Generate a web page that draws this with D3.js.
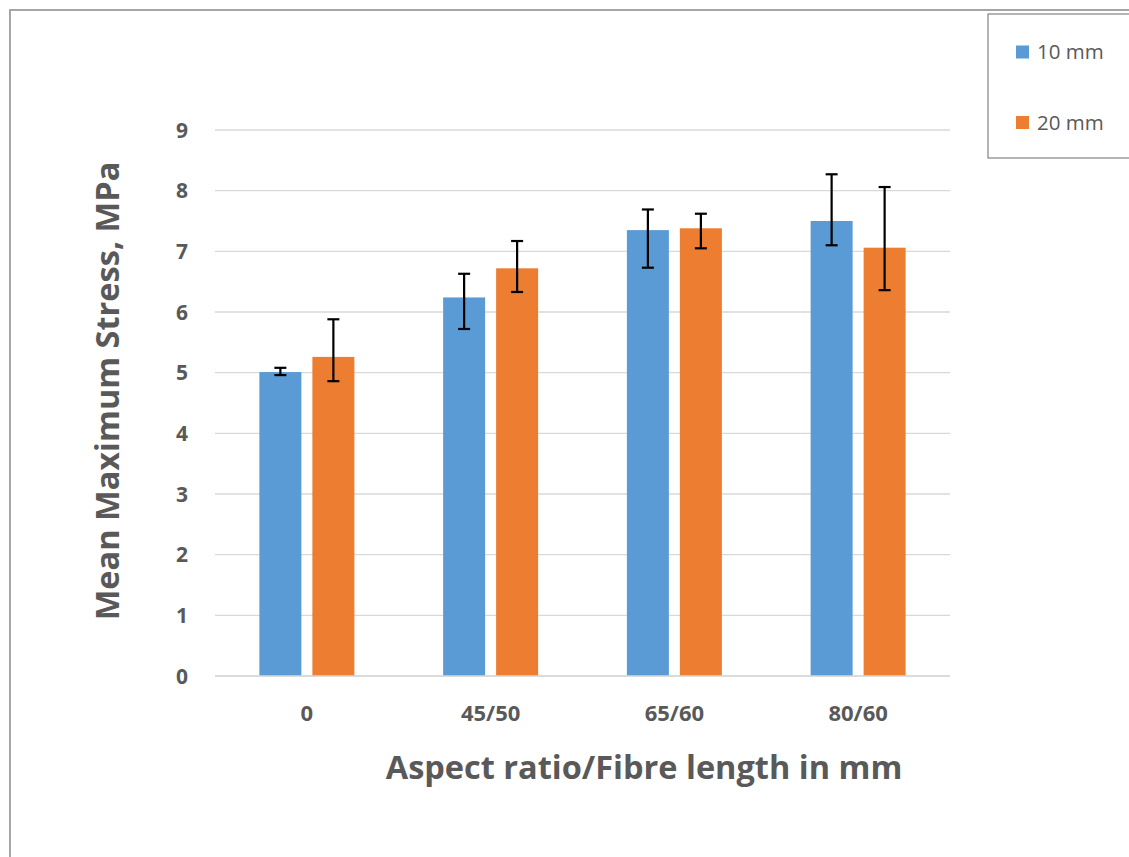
<!DOCTYPE html>
<html><head><meta charset="utf-8">
<script src="https://cdn.jsdelivr.net/npm/d3@7"></script>
<style>body{margin:0;background:#fff}svg{display:block}</style>
</head><body>
<script>
const categories = ["0", "45/50", "65/60", "80/60"];
const seriesNames = ["10 mm", "20 mm"];
const values10 = [5.01, 6.24, 7.35, 7.50];
const values20 = [5.26, 6.72, 7.38, 7.06];
const errLow10 = [4.96, 5.72, 6.73, 7.10];
const errHigh10 = [5.08, 6.63, 7.69, 8.27];
const errLow20 = [4.86, 6.33, 7.05, 6.36];
const errHigh20 = [5.88, 7.17, 7.62, 8.06];
const yTicks = [0,1,2,3,4,5,6,7,8,9];
const colors = ["#5B9BD5", "#ED7D31"];

const W = 1129, H = 857;
const svg = d3.select("body").append("svg").attr("width", W).attr("height", H);
const font = "'Open Sans', 'Liberation Sans', sans-serif";
const txt = "#595959";

// outer frame
svg.append("rect").attr("x", 10).attr("y", 10).attr("width", W).attr("height", H)
  .attr("fill", "none").attr("stroke", "#a6a6a6").attr("stroke-width", 2);

const x0 = d3.scaleBand().domain(categories).range([215, 950]);
const y = d3.scaleLinear().domain([0, 9]).range([676, 130]);

// grid
svg.append("g").selectAll("line").data(yTicks).join("line")
  .attr("x1", 215).attr("x2", 950)
  .attr("y1", d => y(d)).attr("y2", d => y(d))
  .attr("stroke", "#d9d9d9").attr("stroke-width", 1.3);

// y tick labels
svg.append("g").selectAll("text").data(yTicks).join("text")
  .attr("x", 188).attr("y", d => y(d)).attr("dy", "0.36em")
  .attr("text-anchor", "end").attr("font-family", font).attr("font-weight", "bold")
  .attr("font-size", 21).attr("fill", txt).text(d => d);

// x tick labels
svg.append("g").selectAll("text").data(categories).join("text")
  .attr("x", d => x0(d) + x0.bandwidth() / 2).attr("y", 721)
  .attr("text-anchor", "middle").attr("font-family", font).attr("font-weight", "bold")
  .attr("font-size", 22).attr("fill", txt).text(d => d);

const series = [
  {vals: values10, lo: errLow10, hi: errHigh10},
  {vals: values20, lo: errLow20, hi: errHigh20}
];
const barW = 42, gap = 11;
const xs = d3.scaleOrdinal().domain([0, 1]).range([-(barW + gap / 2), gap / 2]);

series.forEach((s, si) => {
  const g = svg.append("g");
  g.selectAll("rect").data(categories).join("rect")
    .attr("x", (c) => x0(c) + x0.bandwidth() / 2 + xs(si))
    .attr("y", (c, i) => y(s.vals[i]))
    .attr("width", barW)
    .attr("height", (c, i) => y(0) - y(s.vals[i]))
    .attr("fill", colors[si]);
  const eg = svg.append("g").attr("stroke", "#000").attr("stroke-width", 2.2);
  categories.forEach((c, i) => {
    const cx = x0(c) + x0.bandwidth() / 2 + xs(si) + barW / 2;
    eg.append("line").attr("x1", cx).attr("x2", cx).attr("y1", y(s.lo[i])).attr("y2", y(s.hi[i]));
    eg.append("line").attr("x1", cx - 6).attr("x2", cx + 6).attr("y1", y(s.lo[i])).attr("y2", y(s.lo[i]));
    eg.append("line").attr("x1", cx - 6).attr("x2", cx + 6).attr("y1", y(s.hi[i])).attr("y2", y(s.hi[i]));
  });
});

// axis line
svg.append("line").attr("x1", 215).attr("x2", 950).attr("y1", y(0)).attr("y2", y(0))
  .attr("stroke", "#d9d9d9").attr("stroke-width", 1.3);

// axis titles
svg.append("text").attr("x", 644).attr("y", 779)
  .attr("text-anchor", "middle").attr("font-family", font).attr("font-weight", "bold")
  .attr("font-size", 32.5).attr("fill", txt).text("Aspect ratio/Fibre length in mm");
svg.append("text").attr("transform", "translate(119,391) rotate(-90)")
  .attr("text-anchor", "middle").attr("font-family", font).attr("font-weight", "bold")
  .attr("font-size", 32.5).attr("fill", txt).text("Mean Maximum Stress, MPa");

// legend
svg.append("rect").attr("x", 988).attr("y", 14).attr("width", 160).attr("height", 144)
  .attr("fill", "#fff").attr("stroke", "#8c8c8c").attr("stroke-width", 1.3);
const leg = svg.append("g").selectAll("g").data(seriesNames).join("g")
  .attr("transform", (d, i) => `translate(1016,${52 + i * 70.5})`);
leg.append("rect").attr("x", 0).attr("y", -6.5).attr("width", 13).attr("height", 13)
  .attr("fill", (d, i) => colors[i]);
leg.append("text").attr("x", 21).attr("y", 0).attr("dy", "0.36em")
  .attr("font-family", font).attr("font-size", 20.5).attr("fill", txt).text(d => d);
</script>
</body></html>
